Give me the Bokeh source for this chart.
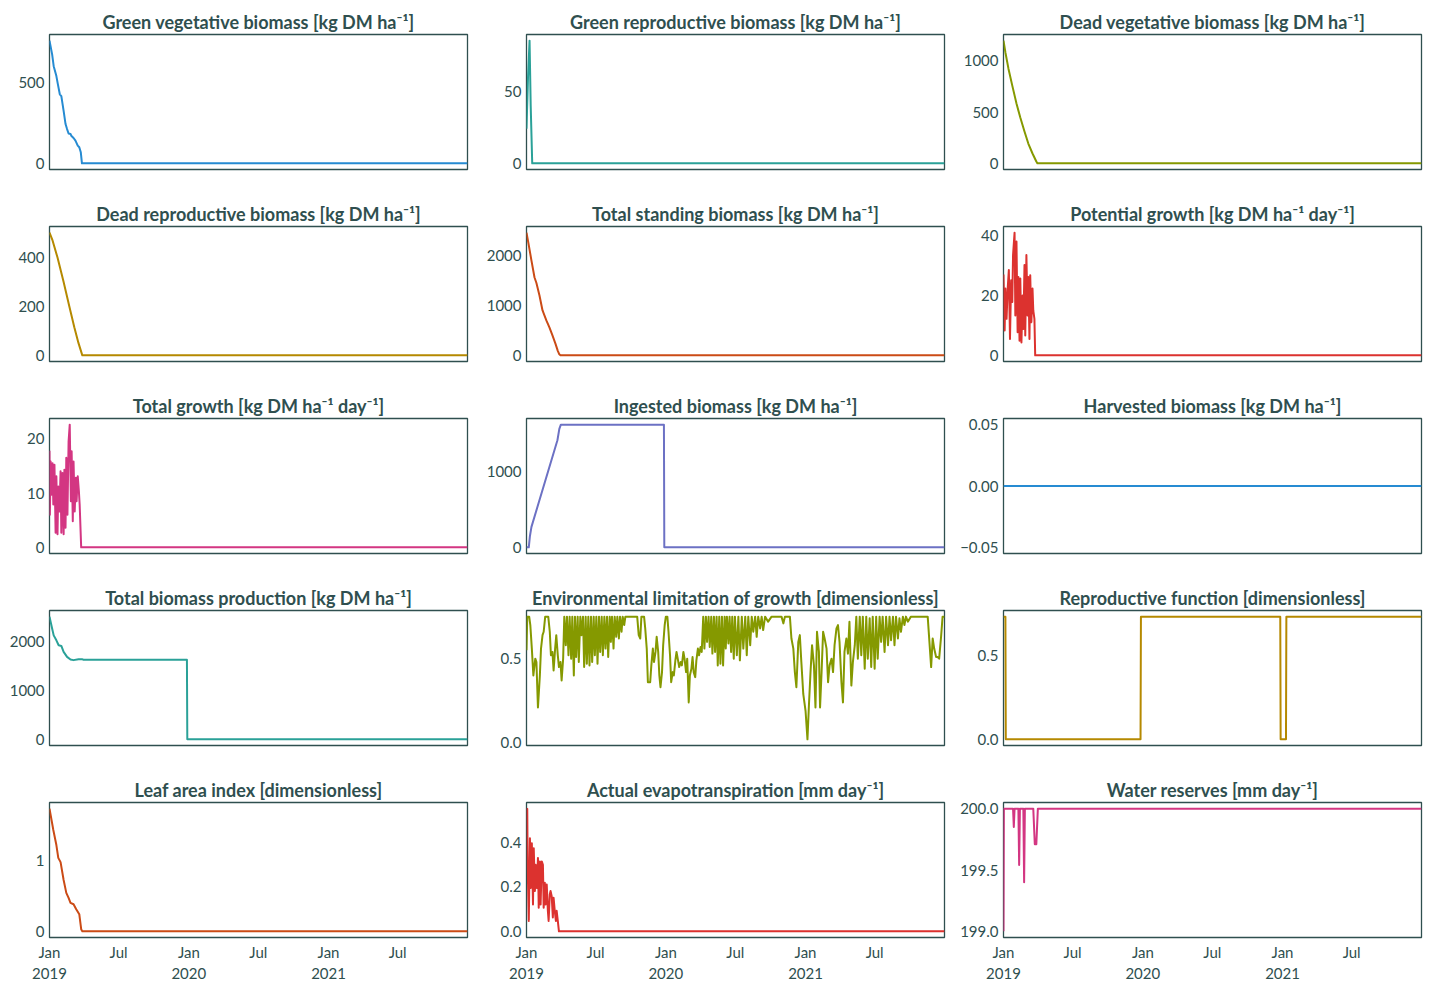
import pandas as pd
from bokeh.plotting import figure
from bokeh.layouts import column, row
from bokeh.models import Range1d, DataRange1d, FixedTicker
from bokeh.embed import file_html
from bokeh.resources import INLINE

START = "2019-01-01"
END = "2021-12-31"

X_TICK_DATES = ["2019-01-01", "2019-07-01", "2020-01-01", "2020-07-01", "2021-01-01", "2021-07-01"]
X_TICK_LABELS = ["Jan\n2019", "Jul", "Jan\n2020", "Jul", "Jan\n2021", "Jul"]

TITLES = [
    "Green vegetative biomass [kg DM ha\u207b\u00b9]",
    "Green reproductive biomass [kg DM ha\u207b\u00b9]",
    "Dead vegetative biomass [kg DM ha\u207b\u00b9]",
    "Dead reproductive biomass [kg DM ha\u207b\u00b9]",
    "Total standing biomass [kg DM ha\u207b\u00b9]",
    "Potential growth [kg DM ha\u207b\u00b9 day\u207b\u00b9]",
    "Total growth [kg DM ha\u207b\u00b9 day\u207b\u00b9]",
    "Ingested biomass [kg DM ha\u207b\u00b9]",
    "Harvested biomass [kg DM ha\u207b\u00b9]",
    "Total biomass production [kg DM ha\u207b\u00b9]",
    "Environmental limitation of growth [dimensionless]",
    "Reproductive function [dimensionless]",
    "Leaf area index [dimensionless]",
    "Actual evapotranspiration [mm day\u207b\u00b9]",
    "Water reserves [mm day\u207b\u00b9]",
]

COLORS = ["#268bd2", "#2aa198", "#859900", "#b58900", "#cb4b16", "#dc322f", "#d33682", "#6c71c4",
          "#268bd2", "#2aa198", "#859900", "#b58900", "#cb4b16", "#dc322f", "#d33682"]

Y_TICKS = [
    [0, 500], [0, 50], [0, 500, 1000],
    [0, 200, 400], [0, 1000, 2000], [0, 20, 40],
    [0, 10, 20], [0, 1000], [-0.05, 0.0, 0.05],
    [0, 1000, 2000], [0.0, 0.5], [0.0, 0.5],
    [0, 1], [0.0, 0.2, 0.4], [199.0, 199.5, 200.0],
]
Y_TICK_LABELS = [
    ["0", "500"], ["0", "50"], ["0", "500", "1000"],
    ["0", "200", "400"], ["0", "1000", "2000"], ["0", "20", "40"],
    ["0", "10", "20"], ["0", "1000"], ["\u22120.05", "0.00", "0.05"],
    ["0", "1000", "2000"], ["0.0", "0.5"], ["0.0", "0.5"],
    ["0", "1"], ["0.0", "0.2", "0.4"], ["199.0", "199.5", "200.0"],
]

# day offsets from START and values
GV_DAY = [0, 7, 11, 18, 22, 27, 31, 37, 42, 46, 50, 55, 57, 63, 68, 74, 78, 82, 85, 1095]
GV_VAL = [755, 669, 598, 537, 486, 425, 414, 323, 242, 211, 184, 181, 170, 156, 140, 109, 99, 68, 0, 0]

GR_DAY = [0, 4, 8, 11, 15, 1095]
GR_VAL = [24, 60, 85, 40, 0, 0]

DV_DAY = [0, 5, 13, 23, 34, 44, 55, 65, 76, 86, 89, 1095]
DV_VAL = [1195, 1080, 922, 757, 582, 446, 310, 193, 96, 18, 0, 0]

DR_DAY = [0, 8, 21, 37, 52, 65, 76, 86, 1095]
DR_VAL = [502, 470, 400, 300, 200, 115, 50, 0, 0]

TS_DAY = [0, 5, 13, 21, 26, 34, 42, 52, 60, 68, 76, 82, 86, 89, 1095]
TS_VAL = [2460, 2250, 1900, 1560, 1450, 1200, 900, 700, 560, 400, 230, 90, 20, 0, 0]

PG_DAY = [0, 3, 5, 8, 11, 14, 17, 20, 23, 25, 29, 31, 34, 37, 39, 42, 44, 47, 50, 52,
          55, 57, 60, 63, 65, 68, 70, 73, 76, 78, 81, 83, 1095]
PG_VAL = [27, 8.3, 22.3, 12.2, 22.3, 28.5, 5.5, 25.1, 17.8, 33.5, 41.0, 13.3, 38.0, 7.7, 26.2, 4.9, 25.7, 4.3, 20.0, 8.8,
          30.2, 6.6, 33.5, 13.3, 26.2, 5.5, 26.8, 11.1, 22.3, 15.0, 12.2, 0, 0]

TG_DAY = [0, 1, 3, 5, 8, 10, 13, 16, 18, 21, 23, 26, 29, 31, 34, 37, 39, 42, 44, 47,
          50, 53, 56, 58, 61, 63, 66, 69, 71, 74, 77, 79, 83, 1095]
TG_VAL = [17.8, 6.0, 15.8, 9.7, 15.5, 7.9, 15.2, 2.7, 13.1, 2.4, 11.2, 6.6, 14.0, 2.7, 13.7, 2.4, 14.3, 3.6, 16.5, 6.0,
          19.5, 22.6, 8.5, 17.7, 4.8, 15.8, 6.6, 12.8, 8.5, 13.1, 10.3, 7.9, 0, 0]

IN_DAY = [0, 6, 9, 13, 81, 86, 90, 360, 361, 1095]
IN_VAL = [0, 0, 150, 270, 1410, 1560, 1615, 1615, 0, 0]

HV_DAY = [0, 1095]
HV_VAL = [0, 0]

TB_DAY = [0, 7, 11, 18, 24, 31, 37, 46, 55, 63, 76, 85, 89, 360, 361, 1095]
TB_VAL = [2503, 2256, 2121, 2020, 1919, 1905, 1784, 1683, 1630, 1616, 1636, 1636, 1625, 1625, 0, 0]

EL_DAY = [0, 2, 7, 10, 14, 18, 23, 26, 30, 35,
          38, 42, 45, 49, 57, 61, 64, 68, 71, 75,
          78, 82, 85, 89, 92, 96, 99, 103, 106, 110,
          113, 117, 120, 124, 127, 130, 134, 137, 141, 144,
          148, 151, 155, 158, 162, 165, 169, 172, 176, 179,
          183, 186, 190, 193, 197, 200, 204, 207, 211, 214,
          218, 221, 224, 228, 231, 235, 238, 242, 245, 249,
          252, 256, 259, 290, 294, 298, 301, 308, 311, 315,
          318, 324, 327, 331, 334, 338, 341, 345, 348, 351,
          355, 358, 362, 365, 369, 372, 376, 379, 383, 386,
          390, 393, 397, 400, 404, 407, 411, 414, 418, 421,
          425, 428, 432, 435, 438, 442, 445, 449, 452, 456,
          459, 463, 466, 470, 473, 477, 480, 484, 487, 491,
          494, 498, 501, 505, 508, 512, 515, 519, 522, 525,
          529, 532, 536, 539, 543, 546, 551, 555, 559, 564,
          568, 573, 577, 581, 586, 590, 594, 599, 603, 607,
          612, 616, 620, 625, 633, 642, 668, 673, 677, 690,
          694, 699, 703, 707, 712, 716, 720, 725, 731, 736,
          740, 744, 748, 753, 757, 761, 766, 769, 773, 777,
          781, 786, 790, 794, 799, 803, 807, 812, 816, 820,
          825, 829, 833, 838, 842, 846, 851, 855, 860, 864,
          868, 873, 877, 881, 886, 890, 894, 899, 903, 907,
          912, 916, 920, 925, 929, 933, 938, 942, 947, 951,
          955, 960, 964, 968, 973, 977, 981, 986, 990, 994,
          999, 1007, 1051, 1060, 1064, 1068, 1073, 1077, 1081, 1086,
          1090, 1095]
EL_VAL = [0.55, 0.75, 0.75, 0.70, 0.56, 0.40, 0.50, 0.48, 0.21, 0.40,
          0.56, 0.64, 0.66, 0.75, 0.75, 0.66, 0.52, 0.54, 0.43, 0.56,
          0.64, 0.52, 0.45, 0.48, 0.37, 0.50, 0.75, 0.58, 0.75, 0.52,
          0.75, 0.50, 0.75, 0.40, 0.75, 0.51, 0.75, 0.48, 0.75, 0.64,
          0.75, 0.45, 0.75, 0.47, 0.75, 0.46, 0.75, 0.48, 0.75, 0.52,
          0.75, 0.47, 0.75, 0.54, 0.75, 0.52, 0.75, 0.56, 0.75, 0.51,
          0.75, 0.60, 0.75, 0.56, 0.75, 0.63, 0.75, 0.62, 0.75, 0.66,
          0.75, 0.70, 0.75, 0.75, 0.64, 0.62, 0.75, 0.75, 0.68, 0.56,
          0.36, 0.36, 0.46, 0.56, 0.48, 0.54, 0.63, 0.54, 0.40, 0.33,
          0.42, 0.58, 0.70, 0.75, 0.75, 0.66, 0.52, 0.36, 0.42, 0.40,
          0.49, 0.54, 0.49, 0.45, 0.48, 0.46, 0.54, 0.50, 0.42, 0.50,
          0.24, 0.40, 0.44, 0.51, 0.42, 0.39, 0.49, 0.56, 0.52, 0.57,
          0.54, 0.75, 0.56, 0.75, 0.60, 0.75, 0.57, 0.75, 0.53, 0.75,
          0.54, 0.75, 0.46, 0.75, 0.47, 0.75, 0.46, 0.75, 0.56, 0.75,
          0.59, 0.75, 0.54, 0.75, 0.50, 0.75, 0.52, 0.75, 0.49, 0.75,
          0.56, 0.75, 0.52, 0.75, 0.58, 0.75, 0.66, 0.75, 0.63, 0.75,
          0.68, 0.75, 0.67, 0.75, 0.72, 0.75, 0.75, 0.71, 0.75, 0.75,
          0.62, 0.56, 0.42, 0.33, 0.60, 0.64, 0.48, 0.29, 0.19, 0.02,
          0.23, 0.42, 0.58, 0.46, 0.21, 0.66, 0.54, 0.21, 0.42, 0.66,
          0.62, 0.56, 0.36, 0.46, 0.50, 0.42, 0.58, 0.68, 0.70, 0.60,
          0.36, 0.24, 0.54, 0.62, 0.53, 0.72, 0.34, 0.48, 0.58, 0.75,
          0.50, 0.75, 0.52, 0.75, 0.44, 0.75, 0.50, 0.74, 0.45, 0.75,
          0.44, 0.75, 0.50, 0.75, 0.60, 0.75, 0.54, 0.75, 0.58, 0.75,
          0.61, 0.75, 0.58, 0.75, 0.62, 0.74, 0.66, 0.75, 0.70, 0.75,
          0.72, 0.75, 0.75, 0.45, 0.62, 0.56, 0.51, 0.51, 0.50, 0.63,
          0.75, 0.75]

RF_DAY = [0, 5, 6, 359, 360, 725, 726, 740, 741, 1095]
RF_VAL = [0.73, 0.73, 0, 0, 0.73, 0.73, 0, 0, 0.73, 0.73]

LAI_DAY = [0, 10, 18, 23, 29, 37, 44, 50, 55, 63, 70, 78, 83, 86, 1095]
LAI_VAL = [1.72, 1.42, 1.21, 1.03, 0.97, 0.72, 0.54, 0.47, 0.40, 0.38, 0.31, 0.24, 0.03, 0, 0]

AET_DAY = [0, 2, 3, 6, 9, 11, 14, 17, 19, 22, 24, 27, 30, 32, 35, 37, 40, 43, 45, 48,
           50, 53, 56, 58, 61, 63, 66, 69, 71, 74, 77, 79, 82, 85, 1095]
AET_VAL = [0.551, 0.55, 0.299, 0.047, 0.418, 0.195, 0.396, 0.121, 0.373, 0.181, 0.299, 0.195, 0.329, 0.106,
           0.314, 0.121, 0.314, 0.299, 0.106, 0.218, 0.121, 0.21, 0.092, 0.047, 0.166, 0.181, 0.158, 0.062,
           0.151, 0.092, 0.047, 0.092, 0.047, 0, 0]

WR_DAY = [0, 1, 25, 27, 29, 39, 41, 43, 52, 54, 56, 78, 82, 86, 90, 1095]
WR_VAL = [199.0, 200.0, 200.0, 199.85, 200.0, 200.0, 199.54, 200.0, 200.0, 199.40, 200.0, 200.0, 199.71, 199.71,
          200.0, 200.0]

SERIES = [
    (GV_DAY, GV_VAL), (GR_DAY, GR_VAL), (DV_DAY, DV_VAL),
    (DR_DAY, DR_VAL), (TS_DAY, TS_VAL), (PG_DAY, PG_VAL),
    (TG_DAY, TG_VAL), (IN_DAY, IN_VAL), (HV_DAY, HV_VAL),
    (TB_DAY, TB_VAL), (EL_DAY, EL_VAL), (RF_DAY, RF_VAL),
    (LAI_DAY, LAI_VAL), (AET_DAY, AET_VAL), (WR_DAY, WR_VAL),
]

FONT = "Lato"
TEXT = "#2f4f4f"
t0 = pd.Timestamp(START)
x_start = t0
x_end = pd.Timestamp(END)
tick_ms = [pd.Timestamp(d).value / 1e6 for d in X_TICK_DATES]


def style_axis(ax):
    ax.axis_line_color = None
    ax.major_tick_line_color = None
    ax.minor_tick_line_color = None
    ax.major_tick_out = 0
    ax.major_tick_in = 0
    ax.minor_tick_out = 0
    ax.minor_tick_in = 0
    ax.major_label_text_font = FONT
    ax.major_label_text_font_size = "15px"
    ax.major_label_text_color = TEXT
    ax.major_label_standoff = 5


def make_panel(i):
    r, c = divmod(i, 3)
    bottom = (r == 4)
    days, vals = SERIES[i]
    xs = [t0 + pd.Timedelta(days=d) for d in days]
    if i == 8:
        yr = Range1d(-0.055, 0.055)
    else:
        yr = DataRange1d(range_padding=0.1)
    p = figure(x_axis_type="datetime", output_backend="svg", toolbar_location=None,
               frame_width=418, frame_height=135,
               min_border_left=49, min_border_right=(10 if c < 2 else 9),
               min_border_top=34, min_border_bottom=(52 if bottom else 23),
               x_range=Range1d(x_start, x_end), y_range=yr,
               background_fill_color="white", border_fill_color="white")
    p.line(xs, vals, line_width=2, color=COLORS[i], line_join="round")
    p.grid.visible = False
    p.outline_line_color = TEXT
    p.outline_line_width = 1.3
    p.outline_line_alpha = 1.0
    p.title.text = TITLES[i]
    p.title.align = "center"
    p.title.text_font = FONT
    p.title.text_font_size = "18px"
    p.title.text_font_style = "bold"
    p.title.text_color = TEXT
    p.title.standoff = 4
    ya = p.yaxis[0]
    ya.ticker = FixedTicker(ticks=Y_TICKS[i])
    ya.major_label_overrides = {float(t): l for t, l in zip(Y_TICKS[i], Y_TICK_LABELS[i])}
    style_axis(ya)
    xa = p.xaxis[0]
    if bottom:
        xa.ticker = FixedTicker(ticks=tick_ms)
        xa.major_label_overrides = {t: l for t, l in zip(tick_ms, X_TICK_LABELS)}
        style_axis(xa)
    else:
        xa.visible = False
    return p


panels = [make_panel(i) for i in range(15)]
rows = [row(*panels[k * 3:(k + 1) * 3]) for k in range(5)]
layout = column(*rows)

open("out.html", "w").write(file_html(layout, INLINE))
